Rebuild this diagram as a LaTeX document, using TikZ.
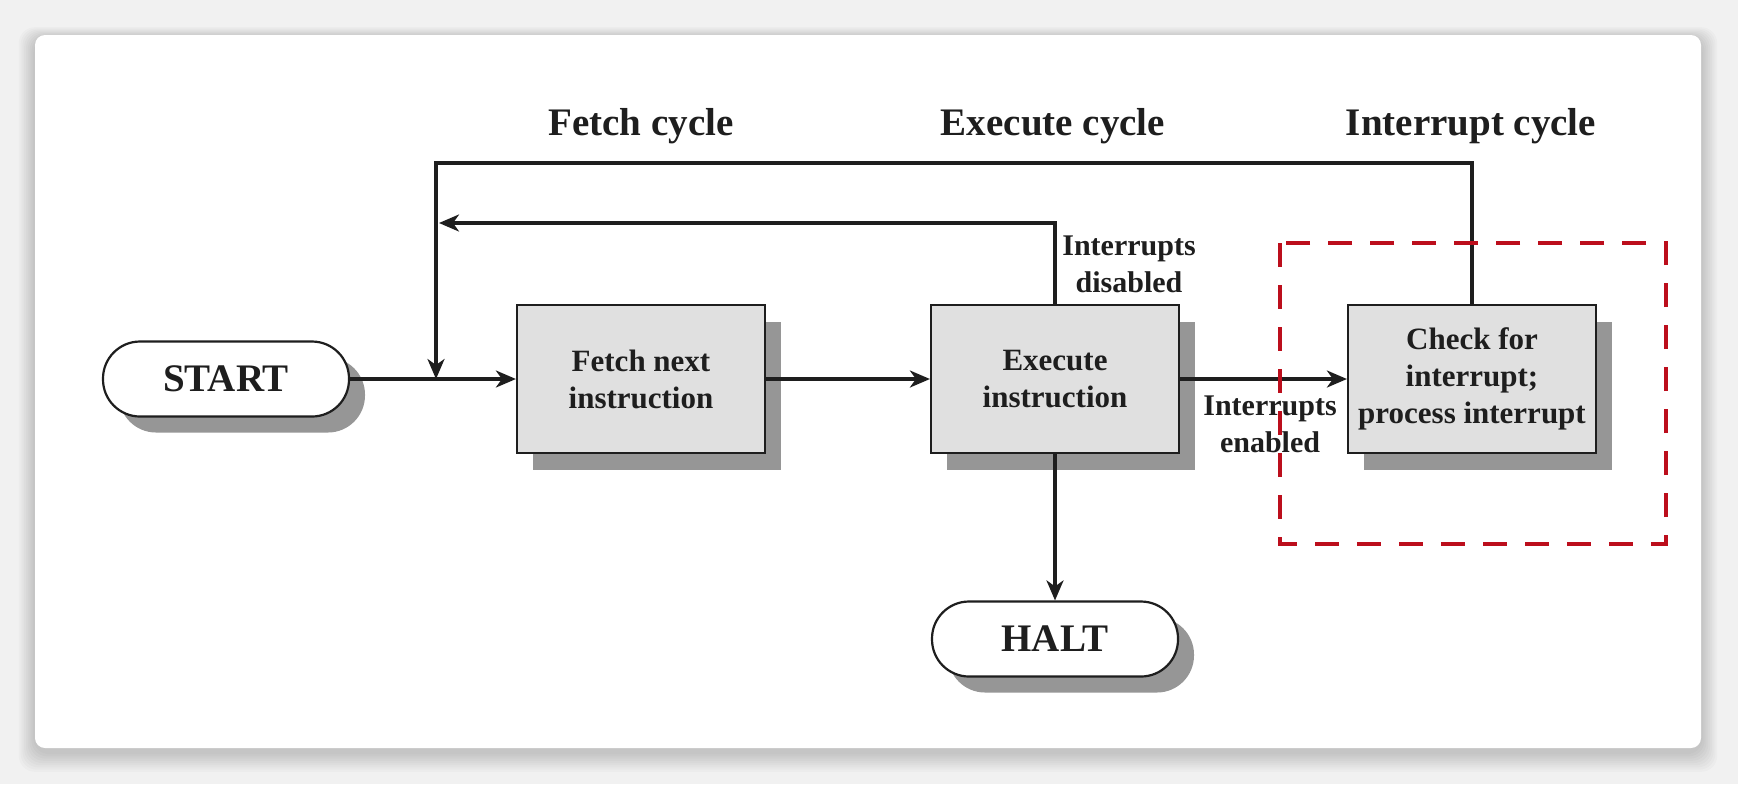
\documentclass[tikz,border=0pt]{standalone}
\usepackage{fontspec}
\setmainfont{Liberation Serif}
\usetikzlibrary{arrows.meta,shadows}
\definecolor{pagebg}{RGB}{241,241,241}
\definecolor{boxfill}{RGB}{224,224,224}
\definecolor{shadowgray}{RGB}{150,150,150}
\definecolor{dashred}{RGB}{188,14,28}
\definecolor{inkcol}{RGB}{30,30,30}
\tikzset{
  conn/.style={draw=inkcol, line width=1.6pt},
  arr/.style={conn, -{Stealth[length=10pt,width=8.5pt,inset=3pt]}},
  stepbox/.style={draw=inkcol, line width=1.1pt, fill=boxfill, minimum width=124pt,
    minimum height=74pt, align=center, inner sep=0pt, text=inkcol,
    font=\bfseries\fontsize{15.5}{18.5}\selectfont,
    drop shadow={shadow xshift=8pt, shadow yshift=-8.5pt, fill=shadowgray, opacity=1}},
  termbox/.style={draw=inkcol, line width=1.1pt, fill=white, minimum width=123pt,
    minimum height=37.5pt, rounded corners=18.5pt, inner sep=0pt, text=inkcol,
    font=\bfseries\fontsize{19.5}{23}\selectfont,
    drop shadow={shadow xshift=8pt, shadow yshift=-8pt, fill=shadowgray, opacity=1}},
  cyclelabel/.style={anchor=base, text=inkcol, font=\bfseries\fontsize{19.5}{23}\selectfont},
  smalllabel/.style={align=center, text=inkcol, inner sep=0pt,
    font=\bfseries\fontsize{15}{18.5}\selectfont},
  region/.style={draw=dashred, line width=2.4pt, dash pattern=on 12pt off 9pt}
}
\begin{document}
\begin{tikzpicture}[x=0.5pt,y=-0.5pt]
\useasboundingbox (0,0) rectangle (1738,784);
% page background and panel
\fill[pagebg] (0,0) rectangle (1738,784);
\foreach \i in {1,...,9} {
  \fill[black, opacity=0.018, rounded corners=8pt]
    ({35-1.8*\i},{38-1.2*\i}) rectangle ({1701+1.8*\i},{752+2.2*\i});
}
\fill[white, rounded corners=5pt] (35,35) rectangle (1701,748);

% nodes
\node[termbox] (start) at (226,379) {START};
\node[stepbox] (fetch) at (641,379) {Fetch next\\instruction};
\node[stepbox] (exec) at (1055,379) {Execute\\instruction};
\node[stepbox] (check) at (1472,379) {Check for\\interrupt;\\process interrupt};
\node[termbox] (halt) at (1055,639) {HALT};

% titles
\node[cyclelabel] (tfetch) at (641,135) {Fetch cycle};
\node[cyclelabel] (texec) at (1053,135) {Execute cycle};
\node[cyclelabel] (tint) at (1471,135) {Interrupt cycle};

% labels
\node[smalllabel] (ldis) at (1129,264) {Interrupts\\disabled};
\node[smalllabel] (len) at (1270,424) {Interrupts\\enabled};

% coordinates
\coordinate (join) at (436,379);
\coordinate (topl) at (436,163);
\coordinate (midl) at (439,223);

% connectors
\draw[arr] (start.east) -- (fetch.west);
\draw[arr] (check.north) -- (check.north |- topl) -- (topl) -- (join);
\draw[arr] (exec.north) |- (midl);
\draw[arr] (fetch.east) -- (exec.west);
\draw[arr] (exec.east) -- (check.west);
\draw[arr] (exec.south) -- (halt.north);

% interrupt region
\draw[region] (1280,243) rectangle (1666,544);
\end{tikzpicture}
\end{document}
